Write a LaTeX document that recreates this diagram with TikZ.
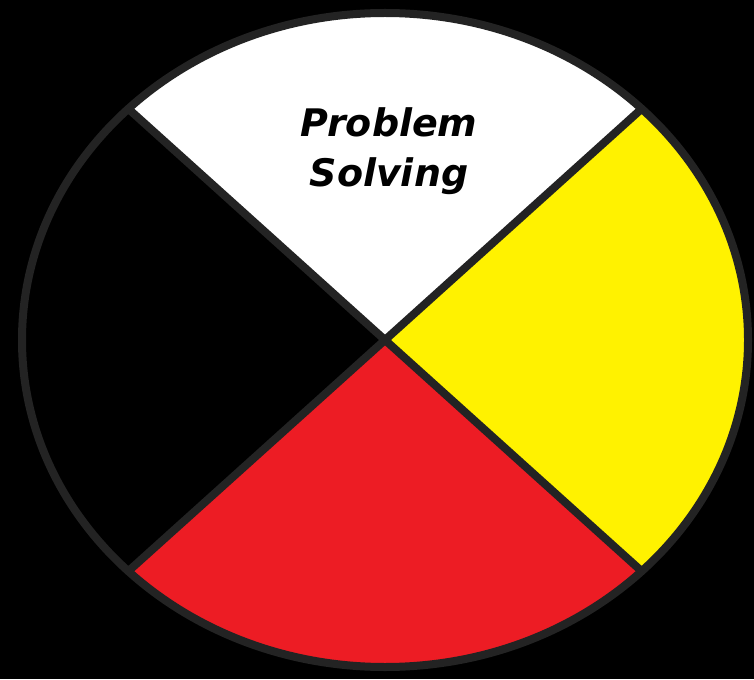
\documentclass[tikz,border=0pt]{standalone}
\usepackage{fontspec}
\setmainfont{DejaVu Sans}
\definecolor{wheelred}{HTML}{ED1C24}
\definecolor{wheelyellow}{HTML}{FFF200}
\definecolor{rimgray}{HTML}{232323}
\begin{document}
\begin{tikzpicture}[
      x=0.025cm, y=0.025cm,
      rim/.style={draw=rimgray, line width=0.2cm, line cap=round},
      lbl/.style={font=\fontsize{27}{36}\selectfont\bfseries\itshape, align=center}
    ]
    % Hintergrund
    \fill[black] (0,0) rectangle (754,679);
    \useasboundingbox (0,0) rectangle (754,679);

    \coordinate (c) at (385,339);

    % Viertel
    \foreach \a/\col in {45/white, 135/black, 225/wheelred, 315/wheelyellow}{
      \fill[\col] (c) -- ++(\a:363 and 327)
        arc[start angle=\a, end angle=\a+90, x radius=363, y radius=327] -- cycle;
    }

    % Speichen
    \foreach \a in {45,135,225,315}{
      \draw[rim] (c) -- ++(\a:363 and 327);
    }

    % Rand
    \draw[rim] (c) ellipse[x radius=363, y radius=327];

    % Beschriftung
    \node[lbl] (ps) at (389,528) {Problem\\Solving};
  \end{tikzpicture}
\end{document}
